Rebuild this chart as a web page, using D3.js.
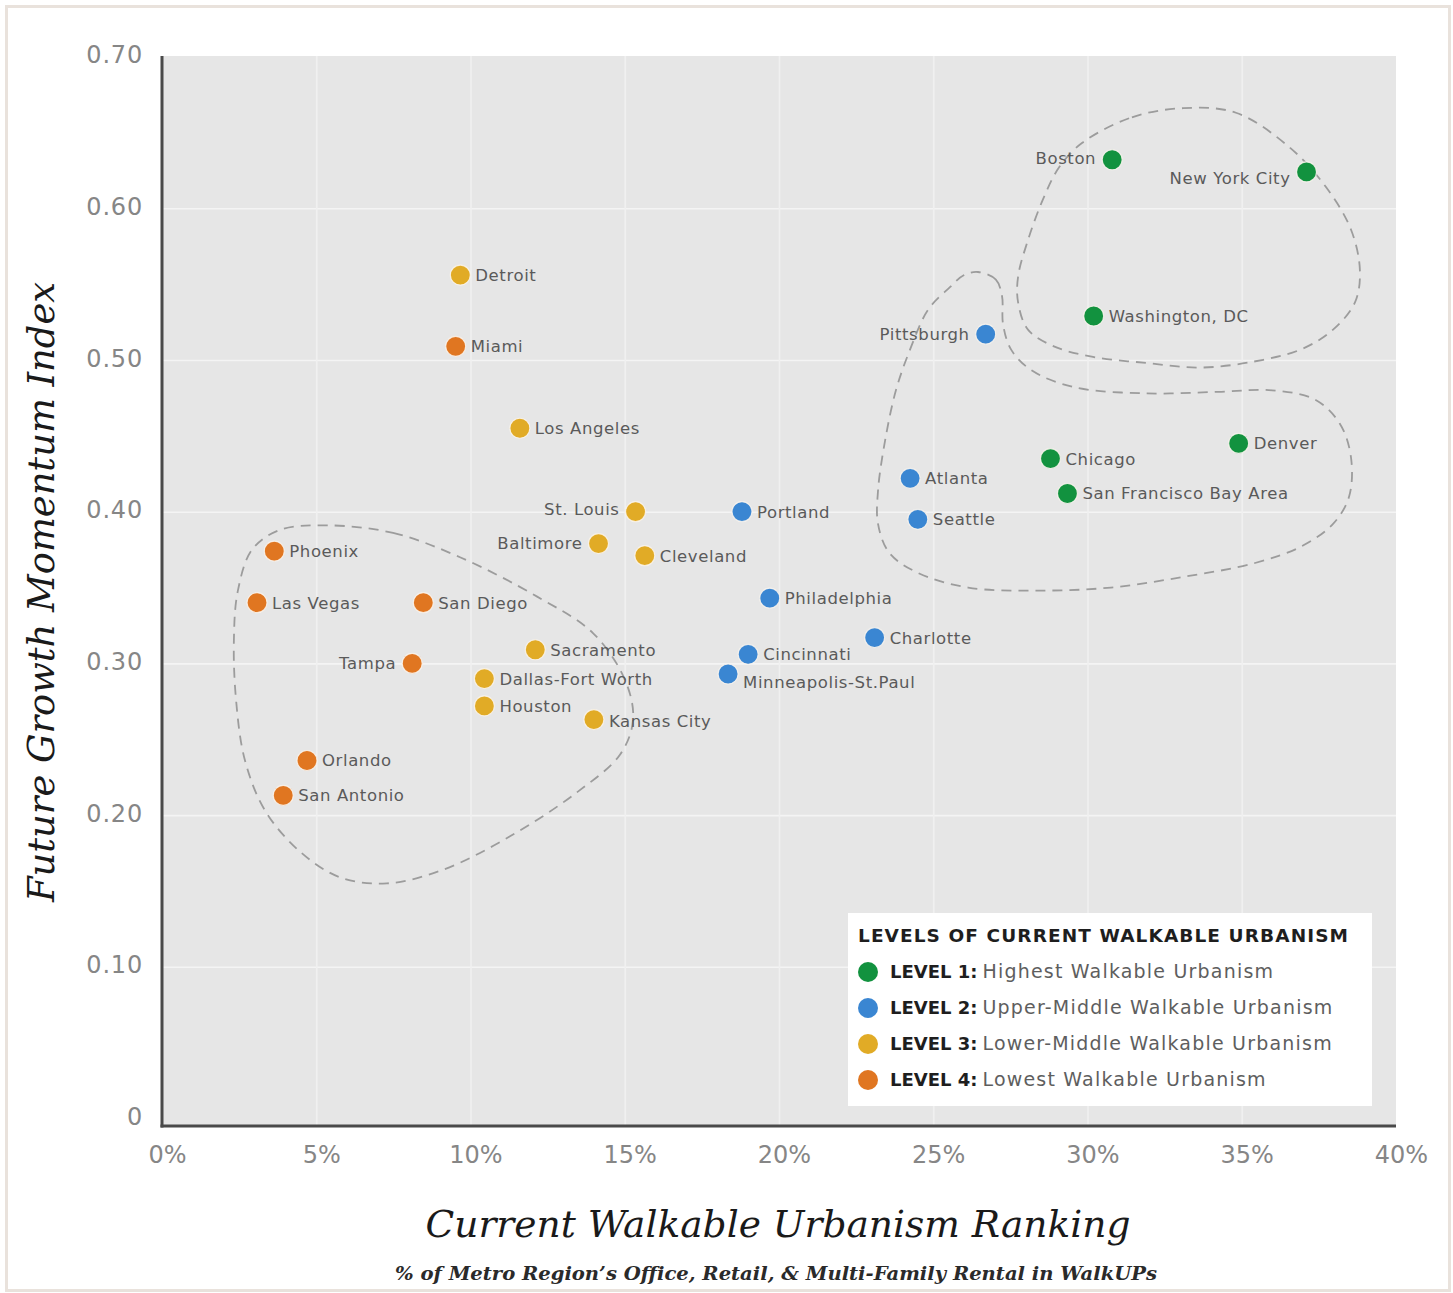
<!DOCTYPE html>
<html>
<head>
<meta charset="utf-8">
<script src="https://cdn.jsdelivr.net/npm/d3@7"></script>
<style>
  html, body { margin: 0; padding: 0; background: #ffffff; }
  svg { display: block; }
</style>
</head>
<body>
<svg id="chart" width="1453" height="1293"></svg>
<script>
// ---------------- DATA ----------------
const cityNames = [
  "Boston", "New York City", "Washington, DC", "Denver", "Chicago", "San Francisco Bay Area",
  "Pittsburgh", "Atlanta", "Seattle", "Portland", "Philadelphia", "Charlotte", "Cincinnati", "Minneapolis-St.Paul",
  "Detroit", "Los Angeles", "St. Louis", "Baltimore", "Cleveland", "Sacramento", "Dallas-Fort Worth", "Houston", "Kansas City",
  "Miami", "Phoenix", "Las Vegas", "San Diego", "Tampa", "Orlando", "San Antonio"
];
// Current Walkable Urbanism Ranking (% of metro office, retail & multi-family rental in WalkUPs)
const walkableShare = [
  30.8, 37.1, 30.2, 34.9, 28.8, 29.35,
  26.7, 24.25, 24.5, 18.8, 19.7, 23.1, 19.0, 18.35,
  9.67, 11.6, 15.35, 14.15, 15.65, 12.1, 10.45, 10.45, 14.0,
  9.52, 3.64, 3.08, 8.47, 8.11, 4.70, 3.93
];
// Future Growth Momentum Index
const momentumIndex = [
  0.632, 0.624, 0.529, 0.445, 0.435, 0.412,
  0.517, 0.422, 0.395, 0.400, 0.343, 0.317, 0.306, 0.293,
  0.556, 0.455, 0.400, 0.379, 0.371, 0.309, 0.290, 0.272, 0.263,
  0.509, 0.374, 0.340, 0.340, 0.300, 0.236, 0.213
];
// Level of current walkable urbanism (1 = highest)
const cityLevel = [
  1, 1, 1, 1, 1, 1,
  2, 2, 2, 2, 2, 2, 2, 2,
  3, 3, 3, 3, 3, 3, 3, 3, 3,
  4, 4, 4, 4, 4, 4, 4
];

const levelLabels = ["LEVEL 1:", "LEVEL 2:", "LEVEL 3:", "LEVEL 4:"];
const levelDescriptions = [
  "Highest Walkable Urbanism",
  "Upper-Middle Walkable Urbanism",
  "Lower-Middle Walkable Urbanism",
  "Lowest Walkable Urbanism"
];
const legendTitle = "LEVELS OF CURRENT WALKABLE URBANISM";

const xTickValues = [0, 5, 10, 15, 20, 25, 30, 35, 40];
const xTickLabels = ["0%", "5%", "10%", "15%", "20%", "25%", "30%", "35%", "40%"];
const yTickValues = [0, 0.1, 0.2, 0.3, 0.4, 0.5, 0.6, 0.7];
const yTickLabels = ["0", "0.10", "0.20", "0.30", "0.40", "0.50", "0.60", "0.70"];

const xTitle = "Current Walkable Urbanism Ranking";
const xSubtitle = "% of Metro Region\u2019s Office, Retail, & Multi-Family Rental in WalkUPs";
const yTitle = "Future Growth Momentum Index";

// Dashed grouping outlines, in data units [walkable %, momentum index]
const hullLowest = [
  [5.35,0.391],[7.49,0.386],[9.66,0.370],[12.16,0.344],[13.97,0.320],[15.01,0.289],[15.27,0.263],
  [14.85,0.240],[13.45,0.215],[11.28,0.186],[9.11,0.164],[7.29,0.155],[5.77,0.159],[4.47,0.176],
  [3.34,0.203],[2.69,0.236],[2.40,0.276],[2.33,0.315],[2.46,0.348],[2.92,0.375],[3.82,0.388]
];
const hullTopRight = [
  [29.82,0.643],[31.44,0.660],[33.10,0.666],[34.81,0.663],[36.56,0.640],[37.73,0.614],[38.54,0.586],
  [38.83,0.559],[38.67,0.538],[37.96,0.520],[36.92,0.507],[35.40,0.499],[33.65,0.495],[31.93,0.498],
  [30.18,0.502],[28.91,0.509],[28.07,0.520],[27.75,0.538],[27.75,0.555],[28.07,0.579],[28.56,0.606],[29.08,0.627]
];
const hullMidRight = [
  [26.45,0.558],[27.03,0.553],[27.23,0.542],[27.26,0.524],[27.52,0.507],[28.20,0.493],[29.59,0.482],
  [31.93,0.478],[34.23,0.479],[35.98,0.480],[37.37,0.474],[38.18,0.458],[38.54,0.436],[38.48,0.410],
  [37.96,0.392],[36.92,0.377],[35.40,0.366],[33.10,0.357],[30.76,0.350],[28.43,0.348],[26.13,0.350],
  [24.47,0.360],[23.57,0.373],[23.21,0.392],[23.21,0.414],[23.44,0.447],[23.79,0.480],[24.25,0.507],
  [24.83,0.533],[25.54,0.548],[26.0,0.556]
];

// ---------------- STYLE / LAYOUT ----------------
const levelColors = ["#12923f", "#3a86d2", "#e1ab26", "#e07621"];
const leftLabelCities = new Set(["Boston", "New York City", "Pittsburgh", "St. Louis", "Baltimore", "Tampa"]);
const labelNudge = { "New York City": 6, "Minneapolis-St.Paul": 8, "Kansas City": 2, "St. Louis": -3, "Boston": -2 };

const svg = d3.select("#chart");
const W = 1453, H = 1293;
const plotLeft = 162, plotRight = 1396, plotTop = 56, plotBottom = 1126;

const x = d3.scaleLinear().domain([0, 40]).range([plotLeft, plotRight]);
const y = d3.scaleLinear().domain([0, 0.7]).range([1118.5, 56.6]);

const sansFont = "'DejaVu Sans', 'Noto Sans', sans-serif";
const serifFont = "'DejaVu Serif', 'Liberation Serif', serif";

// outer frame
svg.append("rect")
  .attr("x", 6.5).attr("y", 6.5).attr("width", W - 10).attr("height", H - 9)
  .attr("fill", "#ffffff").attr("stroke", "#e9e2dc").attr("stroke-width", 3);

// plot background
svg.append("rect")
  .attr("x", plotLeft).attr("y", plotTop)
  .attr("width", plotRight - plotLeft).attr("height", plotBottom - plotTop)
  .attr("fill", "#e6e6e6");

// gridlines
const gridY = svg.append("g").attr("transform", `translate(${plotLeft},0)`)
  .call(d3.axisLeft(y).tickValues(yTickValues.filter(v => v > 0 && v < 0.7)).tickSize(-(plotRight - plotLeft)).tickFormat(""));
gridY.select(".domain").remove();
gridY.selectAll("line").attr("stroke", "#f4f4f4").attr("stroke-width", 1.6);

const gridX = svg.append("g").attr("transform", `translate(0,${plotBottom})`)
  .call(d3.axisBottom(x).tickValues(xTickValues.filter(v => v > 0 && v < 40)).tickSize(-(plotBottom - plotTop)).tickFormat(""));
gridX.select(".domain").remove();
gridX.selectAll("line").attr("stroke", "#f0f0f0").attr("stroke-width", 1.6);

// axis tick labels
const yAxis = svg.append("g").attr("transform", `translate(${plotLeft - 19},0)`)
  .call(d3.axisLeft(y).tickValues(yTickValues).tickSize(0).tickPadding(0)
    .tickFormat((d, i) => yTickLabels[i]));
yAxis.select(".domain").remove();
yAxis.selectAll("text")
  .attr("font-family", sansFont).attr("font-size", 24).attr("fill", "#868686")
  .attr("letter-spacing", 0.8).attr("dy", "0.25em");

const xAxis = svg.append("g").attr("transform", `translate(5,${plotBottom + 20})`)
  .call(d3.axisBottom(x).tickValues(xTickValues).tickSize(0).tickPadding(0)
    .tickFormat((d, i) => xTickLabels[i]));
xAxis.select(".domain").remove();
xAxis.selectAll("text")
  .attr("font-family", sansFont).attr("font-size", 24).attr("fill", "#868686")
  .attr("dy", "0.71em");

// axis lines
svg.append("line").attr("x1", plotLeft).attr("x2", plotLeft).attr("y1", plotTop).attr("y2", plotBottom + 1.5)
  .attr("stroke", "#4a4a4a").attr("stroke-width", 3);
svg.append("line").attr("x1", plotLeft - 1.5).attr("x2", plotRight).attr("y1", plotBottom).attr("y2", plotBottom)
  .attr("stroke", "#4a4a4a").attr("stroke-width", 3);

// dashed outlines
const hullLine = d3.line().x(d => x(d[0])).y(d => y(d[1])).curve(d3.curveCatmullRomClosed.alpha(0.5));
svg.append("g").selectAll("path")
  .data([hullLowest, hullTopRight, hullMidRight])
  .join("path")
  .attr("d", hullLine)
  .attr("fill", "none")
  .attr("stroke", "#9c9c9c")
  .attr("stroke-width", 1.8)
  .attr("stroke-dasharray", "10,7");

// points
const cities = cityNames.map((name, i) => ({ name, wx: walkableShare[i], my: momentumIndex[i], level: cityLevel[i] }));

svg.append("g").selectAll("circle")
  .data(cities)
  .join("circle")
  .attr("cx", d => x(d.wx))
  .attr("cy", d => y(d.my))
  .attr("r", 10)
  .attr("fill", d => levelColors[d.level - 1])
  .attr("stroke", "#fbf6ee")
  .attr("stroke-opacity", 0.85)
  .attr("stroke-width", 1.2);

// point labels
svg.append("g").selectAll("text")
  .data(cities)
  .join("text")
  .attr("x", d => x(d.wx) + (leftLabelCities.has(d.name) ? -16 : 15))
  .attr("y", d => y(d.my) + (labelNudge[d.name] || 0))
  .attr("dy", "0.36em")
  .attr("text-anchor", d => leftLabelCities.has(d.name) ? "end" : "start")
  .attr("font-family", sansFont)
  .attr("font-size", 16.5)
  .attr("letter-spacing", 0.6)
  .attr("fill", "#5a5a5a")
  .text(d => d.name);

// legend
const legend = svg.append("g");
legend.append("rect")
  .attr("x", 848).attr("y", 913).attr("width", 524).attr("height", 193)
  .attr("fill", "#ffffff");
legend.append("text")
  .attr("x", 858).attr("y", 942)
  .attr("font-family", sansFont).attr("font-weight", "bold").attr("font-size", 18.5)
  .attr("fill", "#1e1e1e")
  .attr("textLength", 490).attr("lengthAdjust", "spacing")
  .text(legendTitle);

const items = legend.selectAll("g.item")
  .data(levelLabels)
  .join("g").attr("class", "item")
  .attr("transform", (d, i) => `translate(0,${972 + i * 36})`);
items.append("circle")
  .attr("cx", 868).attr("cy", 0).attr("r", 10)
  .attr("fill", (d, i) => levelColors[i]);
const itxt = items.append("text")
  .attr("x", 890).attr("y", 0).attr("dy", "0.36em")
  .attr("font-family", sansFont).attr("font-size", 18);
itxt.append("tspan").attr("font-weight", "bold").attr("fill", "#1e1e1e").text(d => d);
itxt.append("tspan").attr("fill", "#5e5e5e").attr("dx", 5)
  .attr("font-size", 19).attr("letter-spacing", 1.2)
  .text((d, i) => levelDescriptions[i]);

// axis titles
svg.append("text")
  .attr("x", (plotLeft + plotRight) / 2 - 1).attr("y", 1237)
  .attr("text-anchor", "middle")
  .attr("font-family", serifFont).attr("font-style", "italic").attr("font-size", 37)
  .attr("fill", "#1a1a1a")
  .attr("textLength", 705).attr("lengthAdjust", "spacingAndGlyphs")
  .text(xTitle);

svg.append("text")
  .attr("x", 776).attr("y", 1280)
  .attr("text-anchor", "middle")
  .attr("font-family", serifFont).attr("font-style", "italic").attr("font-weight", "bold").attr("font-size", 19)
  .attr("fill", "#2a2a2a")
  .attr("textLength", 762).attr("lengthAdjust", "spacingAndGlyphs")
  .text(xSubtitle);

svg.append("text")
  .attr("transform", `translate(54,${(plotTop + plotBottom) / 2 + 1}) rotate(-90)`)
  .attr("text-anchor", "middle")
  .attr("font-family", serifFont).attr("font-style", "italic").attr("font-size", 38)
  .attr("fill", "#1a1a1a")
  .attr("textLength", 620).attr("lengthAdjust", "spacingAndGlyphs")
  .text(yTitle);
</script>
</body>
</html>
